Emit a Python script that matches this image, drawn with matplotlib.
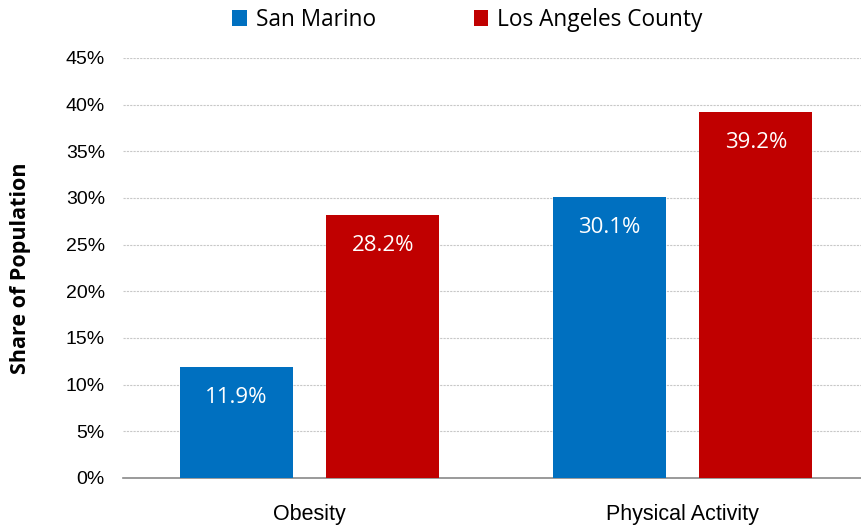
import matplotlib
matplotlib.use("Agg")
import matplotlib.pyplot as plt
import numpy as np
from matplotlib.ticker import PercentFormatter

categories = ["Obesity", "Physical Activity"]
series_names = ["San Marino", "Los Angeles County"]
san_marino = [11.9, 30.1]
la_county = [28.2, 39.2]
colors = ["#0070C0", "#C00000"]

narrow = ["Liberation Sans Narrow", "Liberation Sans", "DejaVu Sans"]
body = ["Open Sans", "DejaVu Sans"]

fig = plt.figure(figsize=(8.61, 5.27), dpi=100)
# plot area runs a little past the right edge of the figure
ax = fig.add_axes([123 / 861, 1 - 478 / 527, 746 / 861, (478 - 58) / 527])

x = np.arange(len(categories))
w = 0.303
off = 0.197
for vals, name, c, d in zip([san_marino, la_county], series_names, colors, [-off, off]):
    bars = ax.bar(x + d, vals, width=w, color=c, label=name, zorder=3)
    for b, v in zip(bars, vals):
        ax.text(b.get_x() + b.get_width() / 2, v - 3.3, f"{v:.1f}%",
                ha="center", va="center", color="white", fontsize=16, family=body)

ax.set_xlim(-0.5, 1.5)
ax.set_ylim(0, 45)
ax.set_yticks(np.arange(0, 46, 5))
ax.yaxis.set_major_formatter(PercentFormatter(decimals=0))
ax.set_xticks(x)
ax.set_xticklabels(categories)
for lab in ax.get_yticklabels():
    lab.set_family(narrow)
    lab.set_fontsize(14)
for lab in ax.get_xticklabels():
    lab.set_family(narrow)
    lab.set_fontsize(15.5)
ax.tick_params(axis="both", length=0, colors="black")
ax.tick_params(axis="y", pad=13)
ax.tick_params(axis="x", pad=19)

ax.grid(axis="y", color="#C8C8C8", linestyle=(0, (2, 1)), linewidth=0.8, zorder=0)
for s in ["top", "right", "left"]:
    ax.spines[s].set_visible(False)
ax.spines["bottom"].set_color("#898989")
ax.spines["bottom"].set_linewidth(1.2)

ax.set_ylabel("Share of Population", fontsize=15.5, fontweight="bold", family=body)
ax.yaxis.set_label_coords(-0.123, 0.5)

fig.legend(loc="center", bbox_to_anchor=(0.543, 1 - 20 / 527), ncol=2, frameon=False,
           prop={"family": body, "size": 16.3}, handlelength=0.65, handleheight=0.65,
           handletextpad=0.4, columnspacing=4.3)

fig.savefig("out.png", dpi=100)
